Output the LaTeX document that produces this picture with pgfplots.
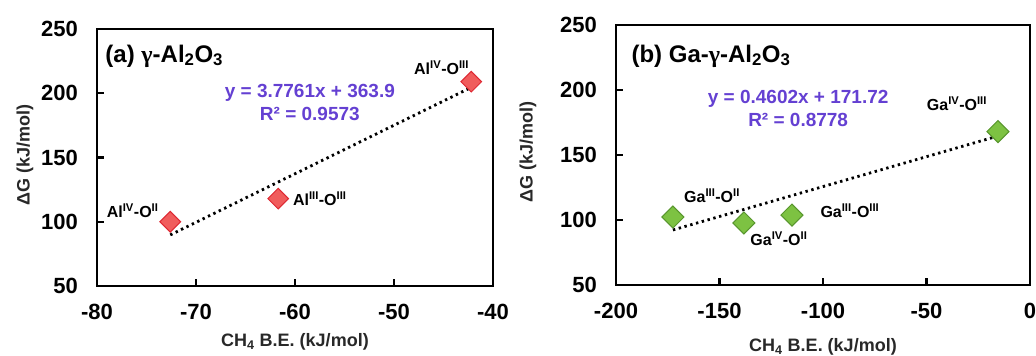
\documentclass[border=0pt]{standalone}
\usepackage{pgfplots}
\pgfplotsset{compat=1.18}
\usepackage{fontspec}
\setmainfont{Liberation Sans}
\newfontfamily\symfont{Liberation Serif}
\newcommand\fs[1]{\fontsize{#1}{#1}\selectfont}
\definecolor{redfill}{RGB}{240,92,92}
\definecolor{rededge}{RGB}{222,40,50}
\definecolor{grfill}{RGB}{125,194,66}
\definecolor{gredge}{RGB}{88,150,45}
\definecolor{eqcol}{RGB}{100,64,210}
\definecolor{labgray}{RGB}{40,40,40}
\pgfplotsset{
  panel/.style={
    scale only axis, clip=false,
    axis line style={line width=2.4pt},
    tick align=inside, tick pos=left,
    major tick length=7pt,
    every tick/.style={black,line width=2.4pt},
    ymin=50, ymax=250, ytick={50,100,150,200,250},
    /pgf/number format/assume math mode=true,
    ticklabel style={font=\bfseries\fs{22}},
    yticklabel style={anchor=east, inner sep=0pt, xshift=-19pt},
    xticklabel style={anchor=center, inner sep=0pt, yshift=-26pt},
    ylabel={ΔG (kJ/mol)},
    xlabel={CH\textsubscript{4} B.E. (kJ/mol)},
    label style={font=\bfseries\fs{18}, text=labgray},
  },
  trend/.style={black, line width=2.8pt, dash pattern=on 2.4pt off 3.6pt, line cap=butt},
}
\begin{document}
\begin{tikzpicture}[x=1pt,y=1pt]
\path[use as bounding box] (0,0) rectangle (1036,356);
% ---------------- (a) ----------------
\begin{axis}[panel,
  at={(97pt,70pt)}, anchor=south west,
  width=396pt, height=257pt,
  xmin=-80, xmax=-40,
  xtick={-80,-70,-60,-50,-40},
  xticklabels={{-80},{-70},{-60},{-50},{-40}},
  yticklabels={{50},{100},{150},{200},{250}},
  xlabel style={at={(axis description cs:0.5,-0.218)}, anchor=center},
  ylabel style={at={(axis description cs:-0.182,0.51)}, anchor=center, rotate=0},
]
\addplot[trend] coordinates {(-72.6,89.75) (-42.2,204.55)};
\addplot[only marks, mark=square*, mark size=7.3pt,
  every mark/.append style={rotate=45, fill=redfill, draw=rededge, line width=1pt}]
  coordinates {(-72.6,100) (-61.7,118) (-42.2,209)};
\node[anchor=base west, font=\bfseries\fs{24}] at (axis cs:-79.5,224.3)
  {(a) {\symfont γ}-Al\textsubscript{2}O\textsubscript{3}};
\node[text=eqcol, font=\bfseries\fs{19}] at (axis cs:-58.5,200.2) {y = 3.7761x + 363.9};
\node[text=eqcol, font=\bfseries\fs{19}] at (axis cs:-58.5,183.9) {R² = 0.9573};
\node[font=\bfseries\fs{16}] at (axis cs:-76.4,108.4) {Al\textsuperscript{IV}-O\textsuperscript{II}};
\node[font=\bfseries\fs{16}] at (axis cs:-57.5,117.7) {Al\textsuperscript{III}-O\textsuperscript{III}};
\node[font=\bfseries\fs{16}] at (axis cs:-45.2,219.6) {Al\textsuperscript{IV}-O\textsuperscript{III}};
\end{axis}
% ---------------- (b) ----------------
\begin{axis}[panel,
  at={(616pt,71pt)}, anchor=south west,
  width=414pt, height=260pt,
  xmin=-200, xmax=0,
  xtick={-200,-150,-100,-50,0},
  xticklabels={{-200},{-150},{-100},{-50},{0}},
  yticklabels={{50},{100},{150},{200},{250}},
  xlabel style={at={(axis description cs:0.5,-0.238)}, anchor=center},
  ylabel style={at={(axis description cs:-0.2126,0.51)}, anchor=center, rotate=0},
]
\addplot[trend] coordinates {(-172.5,92.34) (-15.5,164.59)};
\addplot[only marks, mark=square*, mark size=7.8pt,
  every mark/.append style={rotate=45, fill=grfill, draw=gredge, line width=1pt}]
  coordinates {(-172.5,102.3) (-138.2,97.7) (-115,103.8) (-15.5,168)};
\node[anchor=base west, font=\bfseries\fs{24}] at (axis cs:-194.2,221.5)
  {(b) Ga-{\symfont γ}-Al\textsubscript{2}O\textsubscript{3}};
\node[text=eqcol, font=\bfseries\fs{19}] at (axis cs:-112,193.1) {y = 0.4602x + 171.72};
\node[text=eqcol, font=\bfseries\fs{19}] at (axis cs:-112,176.9) {R² = 0.8778};
\node[font=\bfseries\fs{16}] at (axis cs:-153.6,118.5) {Ga\textsuperscript{III}-O\textsuperscript{II}};
\node[font=\bfseries\fs{16}] at (axis cs:-121.3,85.4) {Ga\textsuperscript{IV}-O\textsuperscript{II}};
\node[font=\bfseries\fs{16}] at (axis cs:-87,107) {Ga\textsuperscript{III}-O\textsuperscript{III}};
\node[font=\bfseries\fs{16}] at (axis cs:-35.3,189.2) {Ga\textsuperscript{IV}-O\textsuperscript{III}};
\end{axis}
\end{tikzpicture}
\end{document}
